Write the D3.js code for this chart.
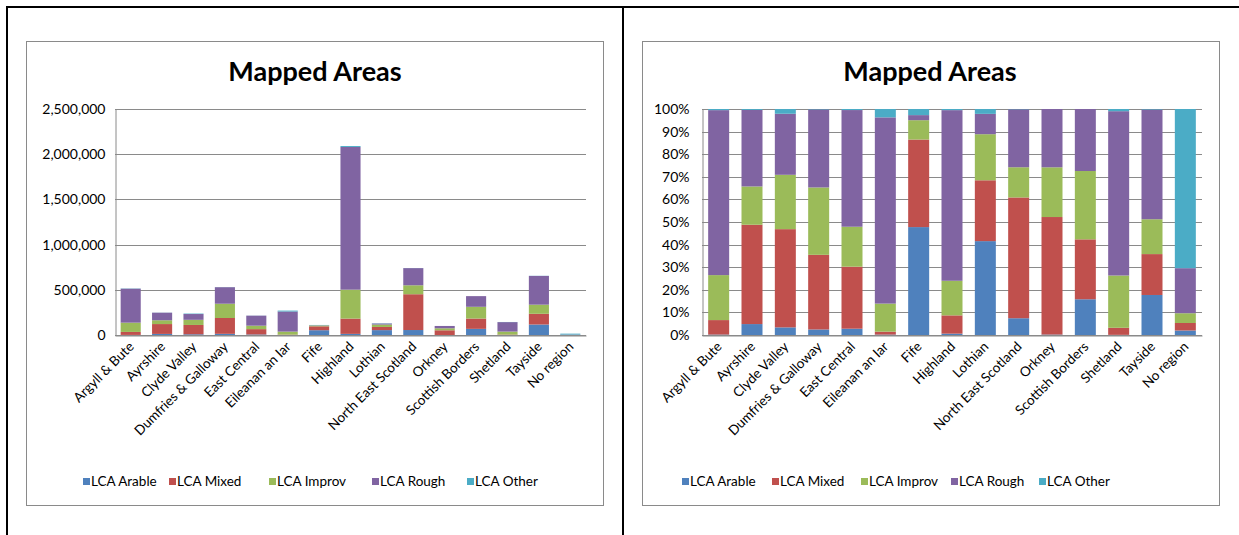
<!DOCTYPE html>
<html>
<head>
<meta charset="utf-8">
<script src="https://cdn.jsdelivr.net/npm/d3@7"></script>
<style>
  html, body { margin: 0; padding: 0; background: #fff; }
  svg { display: block; }
  text { font-family: Lato, "Open Sans", "Liberation Sans", sans-serif; fill: #000; }
</style>
</head>
<body>
<svg id="chart" width="1239" height="535"></svg>
<script>
// ---- data ----
const categories = ["Argyll & Bute", "Ayrshire", "Clyde Valley", "Dumfries & Galloway", "East Central",
  "Eileanan an Iar", "Fife", "Highland", "Lothian", "North East Scotland", "Orkney",
  "Scottish Borders", "Shetland", "Tayside", "No region"];
const seriesNames = ["LCA Arable", "LCA Mixed", "LCA Improv", "LCA Rough", "LCA Other"];
const seriesColors = ["#4F81BD", "#C0504D", "#9BBB59", "#8064A2", "#4BACC6"];

const lcaArable = [1000, 12000, 8000, 13000, 6000, 500, 53000, 12500, 54000, 55000, 200, 68000, 100, 116000, 300];
const lcaMixed  = [33000, 109000, 103000, 175000, 59000, 3500, 43000, 169000, 35000, 396000, 52000, 114000, 4500, 118500, 500];
const lcaImprov = [102500, 42000, 57000, 158000, 38000, 33500, 9500, 320000, 26500, 99000, 22000, 130000, 33300, 101000, 650];
const lcaRough  = [376000, 84000, 64000, 183000, 111000, 222500, 2500, 1578000, 11700, 190000, 25800, 118000, 104700, 318000, 3000];
const lcaOther  = [2600, 1000, 5000, 1000, 1000, 10000, 3000, 10500, 2800, 1000, 0, 0, 1400, 1500, 10600];

const leftTicks = [0, 500000, 1000000, 1500000, 2000000, 2500000];
const rightTicks = [0, 0.1, 0.2, 0.3, 0.4, 0.5, 0.6, 0.7, 0.8, 0.9, 1.0];
const chartTitle = "Mapped Areas";

// ---- build table ----
const seriesArrays = [lcaArable, lcaMixed, lcaImprov, lcaRough, lcaOther];
const rows = categories.map((c, i) => {
  const r = { region: c };
  seriesNames.forEach((s, j) => { r[s] = seriesArrays[j][i]; });
  return r;
});

const svg = d3.select("#chart");
const colorOf = d3.scaleOrdinal().domain(seriesNames).range(seriesColors);

// outer table borders
svg.append("line").attr("x1", 7).attr("x2", 1239).attr("y1", 7).attr("y2", 7).attr("stroke", "#000").attr("stroke-width", 2);
svg.append("line").attr("x1", 7).attr("x2", 7).attr("y1", 6).attr("y2", 535).attr("stroke", "#000").attr("stroke-width", 2);
svg.append("line").attr("x1", 623).attr("x2", 623).attr("y1", 6).attr("y2", 535).attr("stroke", "#000").attr("stroke-width", 2);

function drawChart(cfg) {
  const g = svg.append("g");
  // chart box
  g.append("rect").attr("x", cfg.box[0] + 0.5).attr("y", cfg.box[1] + 0.5)
    .attr("width", cfg.box[2] - cfg.box[0]).attr("height", cfg.box[3] - cfg.box[1])
    .attr("fill", "#fff").attr("stroke", "#8a8a8a").attr("stroke-width", 1);

  // title
  g.append("text").attr("x", cfg.titleX).attr("y", 81).attr("text-anchor", "middle")
    .style("font-size", "27px").style("font-weight", "bold").text(chartTitle);

  const x = d3.scaleBand().domain(categories).range([cfg.x0, cfg.x1])
    .paddingInner(cfg.pad).paddingOuter(cfg.pad / 2);
  const y = d3.scaleLinear().domain(cfg.domain).range([335, 109]);

  // gridlines
  g.append("g").selectAll("line").data(cfg.ticks).join("line")
    .attr("x1", cfg.x0).attr("x2", cfg.x1)
    .attr("y1", d => Math.round(y(d)) + 0.5).attr("y2", d => Math.round(y(d)) + 0.5)
    .attr("stroke", "#8a8a8a").attr("stroke-width", 1);

  // y axis
  const yAxis = d3.axisLeft(y).tickValues(cfg.ticks).tickFormat(cfg.fmt).tickSize(0).tickPadding(cfg.tickPad);
  const ya = g.append("g").attr("transform", `translate(${cfg.x0 + 0.5},0)`).call(yAxis);
  ya.select(".domain").attr("stroke", "#8a8a8a");
  ya.selectAll("text").style("font-size", "14px").style("font-family", "Lato, 'Open Sans', sans-serif");

  // stack
  const stack = d3.stack().keys(seriesNames);
  if (cfg.expand) stack.offset(d3.stackOffsetExpand);
  const layers = stack(rows);

  g.append("g").selectAll("g").data(layers).join("g")
    .attr("fill", d => colorOf(d.key))
    .selectAll("rect").data(d => d).join("rect")
    .attr("x", d => x(d.data.region))
    .attr("width", x.bandwidth())
    .attr("y", d => y(d[1]))
    .attr("height", d => Math.max(0, y(d[0]) - y(d[1])));

  // x axis
  const xAxis = d3.axisBottom(x).tickSize(0).tickPadding(0);
  const xa = g.append("g").attr("transform", "translate(0,335.5)").call(xAxis);
  xa.select(".domain").attr("stroke", "#8a8a8a");
  xa.selectAll("text")
    .style("font-size", "13.5px")
    .attr("text-anchor", "end")
    .attr("dy", 0)
    .attr("transform", "translate(4,12) rotate(-45)");

  // legend
  const lg = g.append("g");
  seriesNames.forEach((s, i) => {
    lg.append("rect").attr("x", cfg.legendX[i]).attr("y", 478).attr("width", 7).attr("height", 7)
      .attr("fill", colorOf(s));
    lg.append("text").attr("x", cfg.legendX[i] + 8).attr("y", 486)
      .style("font-size", "13.5px").text(s);
  });
}

drawChart({
  box: [26, 41, 603, 505],
  titleX: 315,
  x0: 115, x1: 586, pad: 0.36, tickPad: 10,
  domain: [0, 2500000],
  ticks: leftTicks,
  fmt: d3.format(","),
  expand: false,
  legendX: [83, 169, 269, 372, 467]
});

drawChart({
  box: [642, 41, 1219, 505],
  titleX: 930,
  x0: 702, x1: 1202, pad: 0.37, tickPad: 13,
  domain: [0, 1],
  ticks: rightTicks,
  fmt: d3.format(".0%"),
  expand: true,
  legendX: [682, 772, 861, 951, 1039]
});
</script>
</body>
</html>
